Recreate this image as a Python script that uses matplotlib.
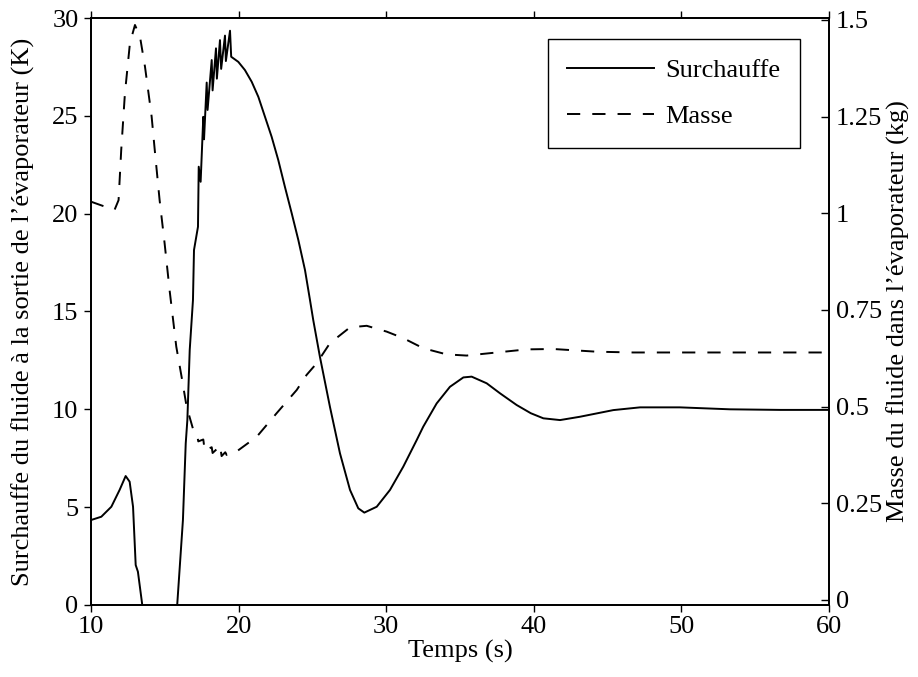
import matplotlib
matplotlib.use("Agg")
import matplotlib.pyplot as plt

# Surchauffe (K) en sortie d'évaporateur
t_surch = [10.0, 10.7, 11.38, 11.94, 12.35, 12.62, 12.85, 13.03, 13.18, 13.46, 13.8, 15.5, 15.85,
           16.23, 16.42, 16.53, 16.69, 16.91, 16.98, 17.25, 17.3, 17.43, 17.61, 17.66, 17.84, 17.9,
           18.18, 18.24, 18.47, 18.53, 18.74, 18.82, 19.08, 19.14, 19.42, 19.5, 19.98, 20.43,
           20.89, 21.34, 21.79, 22.24, 22.69, 23.14, 23.6, 24.05, 24.5, 24.84, 25.06, 25.51,
           26.19, 26.87, 27.55, 28.11, 28.52, 29.36, 30.26, 31.16, 32.07, 32.51, 33.42, 34.32,
           35.23, 35.79, 36.81, 37.71, 38.84, 39.8, 40.65, 41.78, 43.13, 45.39, 47.2, 49.9,
           53.3, 56.7, 60.0]
surchauffe = [4.34, 4.51, 5.02, 5.88, 6.59, 6.3, 5.02, 2.04, 1.7, 0.09, -3.0, -3.0, 0.09,
              4.34, 8.26, 9.45, 13.03, 15.58, 18.14, 19.33, 22.4, 21.63, 24.95, 23.8, 26.7, 25.3,
              27.85, 26.3, 28.45, 26.9, 28.87, 27.4, 29.1, 27.8, 29.35, 28.02, 27.76, 27.34,
              26.74, 25.97, 24.95, 23.93, 22.74, 21.37, 20.02, 18.65, 17.12, 15.58, 14.56, 12.69,
              10.13, 7.75, 5.88, 4.94, 4.72, 5.02, 5.88, 7.07, 8.43, 9.11, 10.3, 11.15,
              11.63, 11.67, 11.33, 10.82, 10.22, 9.8, 9.54, 9.45, 9.62, 9.96, 10.1, 10.1,
              10.0, 9.97, 9.97]

# Masse de fluide dans l'évaporateur (kg)
t_masse = [10.0, 10.81, 11.6, 11.87, 12.05, 12.3, 12.64, 12.98, 13.32, 13.66, 14.11, 14.32, 14.65,
           14.99, 15.33, 15.78, 16.14, 16.48, 16.93, 17.2, 17.27, 17.61, 17.66, 17.84, 17.9,
           18.18, 18.24, 18.52, 18.6, 18.8, 18.85, 19.1, 19.19, 19.4, 19.87, 21.23, 22.58, 23.94,
           24.61, 25.29, 26.19, 27.55, 28.68, 30.03, 31.16, 32.51, 34.1, 35.45, 37.49, 39.52,
           41.32, 44.26, 46.74, 50.0, 55.0, 60.0]
masse = [1.03, 1.019, 1.009, 1.034, 1.164, 1.31, 1.44, 1.487, 1.457, 1.379, 1.25, 1.164, 1.034,
         0.922, 0.80, 0.655, 0.577, 0.5, 0.44, 0.425, 0.41, 0.415, 0.4, 0.405, 0.39,
         0.395, 0.38, 0.39, 0.375, 0.385, 0.372, 0.382, 0.375, 0.38, 0.384, 0.422, 0.483, 0.543,
         0.582, 0.612, 0.664, 0.705, 0.709, 0.694, 0.677, 0.651, 0.635, 0.632, 0.64, 0.648,
         0.649, 0.642, 0.64, 0.64, 0.64, 0.64]

plt.rcParams['font.family'] = ['Liberation Serif', 'DejaVu Serif']
plt.rcParams['font.size'] = 19

fig = plt.figure(figsize=(9.18, 6.77), dpi=100)
ax = fig.add_axes([0.0991, 0.1064, 0.8039, 0.867])
ax2 = ax.twinx()

l1, = ax.plot(t_surch, surchauffe, color='black', lw=1.4, label='Surchauffe')
l2, = ax2.plot(t_masse, masse, color='black', lw=1.4, ls=(0, (6.8, 6.2)), label='Masse')

ax.set_xlim(10, 60)
ax.set_ylim(0, 30)
ax.set_xticks([10, 20, 30, 40, 50, 60])
ax.set_yticks([0, 5, 10, 15, 20, 25, 30])
ax2.set_ylim(-0.013, 1.505)
ax2.set_yticks([0, 0.25, 0.5, 0.75, 1, 1.25, 1.5])
ax2.set_yticklabels(['0', '0.25', '0.5', '0.75', '1', '1.25', '1.5'])

ax.tick_params(direction='out', top=True, length=5, width=1, pad=3)
ax.tick_params(axis='y', pad=4)
ax2.tick_params(direction='in', length=6, width=1, pad=5)
for a in (ax, ax2):
    for s in a.spines.values():
        s.set_linewidth(1.3)

ax.set_xlabel('Temps (s)', labelpad=1)
ax.set_ylabel("Surchauffe du fluide à la sortie de l\u2019évaporateur (K)", labelpad=12)
ax2.set_ylabel("Masse du fluide dans l\u2019évaporateur (kg)", labelpad=3)

leg = ax.legend(handles=[l1, l2], loc='upper right', bbox_to_anchor=(0.9607, 0.9642),
                fancybox=False, edgecolor='black', framealpha=1, handlelength=3.3,
                handletextpad=0.4, labelspacing=0.85, borderpad=0.75, borderaxespad=0,
                fontsize=19)
leg.get_frame().set_linewidth(1.0)

fig.savefig('out.png', dpi=100)
